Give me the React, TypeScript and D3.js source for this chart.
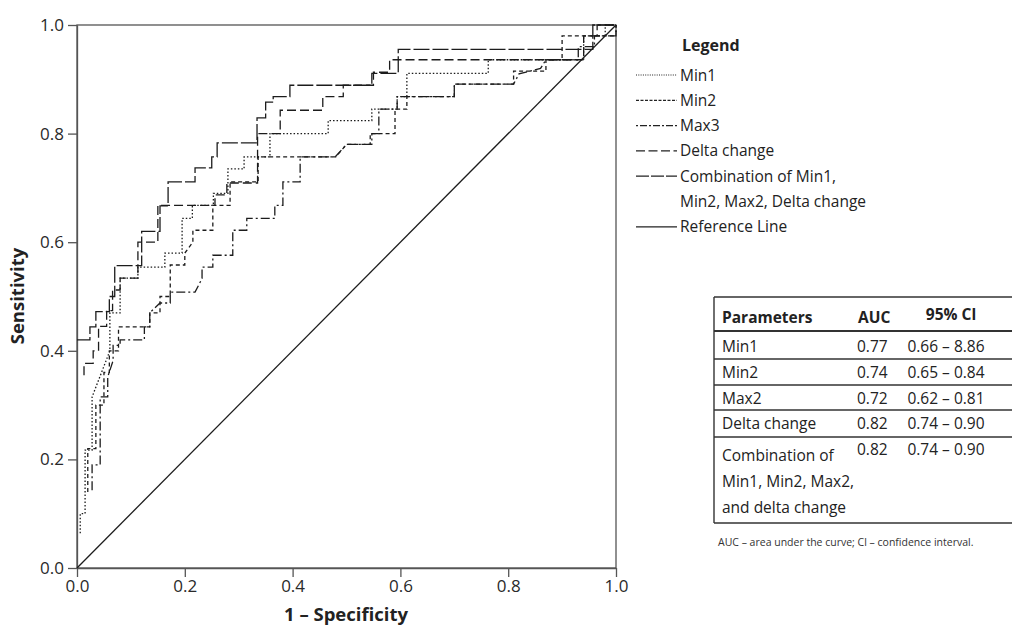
import React, { useRef, useEffect } from 'react';
import * as d3 from 'd3';

const W = 1012;
const H = 630;
const FONT = '"Open Sans", "Noto Sans", sans-serif';

// axis ticks
const ticks = [0, 0.2, 0.4, 0.6, 0.8, 1.0];

// ROC curves, [1 - specificity, sensitivity] corners
const min1: [number, number][] = [[.006, .064], [.006, .10], [.015, .10], [.015, .217], [.028, .217], [.028, .315], [.061, .40], [.061, .47], [.08, .47], [.08, .534], [.113, .534], [.113, .554], [.163, .554], [.163, .58], [.195, .58], [.195, .644], [.214, .644], [.214, .668], [.253, .668], [.253, .69], [.28, .69], [.28, .735], [.31, .735], [.31, .757], [.358, .757], [.358, .80], [.466, .80], [.466, .824], [.547, .824], [.547, .845], [.594, .845], [.594, .868], [.612, .868], [.612, .911], [.763, .911], [.763, .936], [.94, .936], [.94, .98], [.98, .98], [.98, 1], [1, 1]];
const min2: [number, number][] = [[.02, .14], [.02, .22], [.035, .22], [.035, .30], [.05, .30], [.05, .36], [.06, .36], [.06, .40], [.077, .40], [.077, .444], [.135, .444], [.135, .47], [.154, .47], [.154, .50], [.173, .50], [.173, .558], [.2, .558], [.2, .58], [.215, .60], [.215, .622], [.252, .622], [.252, .668], [.284, .668], [.284, .711], [.336, .711], [.336, .757], [.48, .757], [.5, .78], [.544, .78], [.544, .80], [.59, .80], [.59, .845], [.612, .845], [.612, .868], [.70, .868], [.70, .891], [.81, .891], [.81, .915], [.87, .915], [.87, .936], [.90, .936], [.90, .98], [1, .98], [1, 1]];
const max3: [number, number][] = [[.028, .143], [.028, .19], [.043, .19], [.043, .315], [.057, .315], [.057, .352], [.067, .382], [.067, .41], [.08, .41], [.08, .42], [.125, .42], [.125, .444], [.135, .444], [.135, .47], [.154, .488], [.173, .488], [.173, .508], [.219, .508], [.232, .533], [.232, .554], [.252, .554], [.252, .576], [.289, .576], [.289, .622], [.315, .622], [.315, .644], [.367, .644], [.367, .668], [.382, .668], [.382, .711], [.414, .711], [.414, .757], [.479, .757], [.5, .78], [.547, .78], [.547, .80], [.56, .80], [.56, .845], [.594, .845], [.594, .868], [.70, .868], [.70, .891], [.81, .891], [.82, .91], [.86, .92], [.87, .936], [.93, .936], [.93, .96], [.96, .96], [.96, .98], [1, .98], [1, 1]];
const delta: [number, number][] = [[.013, .355], [.013, .377], [.03, .377], [.03, .40], [.04, .40], [.04, .445], [.055, .445], [.055, .474], [.066, .474], [.066, .512], [.08, .512], [.08, .534], [.113, .534], [.113, .60], [.15, .60], [.15, .668], [.256, .668], [.256, .687], [.278, .687], [.278, .709], [.335, .709], [.335, .80], [.377, .80], [.377, .843], [.456, .843], [.456, .868], [.494, .868], [.494, .889], [.55, .889], [.55, .913], [.58, .913], [.58, .936], [.94, .936], [.94, .98], [.965, .98], [.965, 1], [1, 1]];
const combination: [number, number][] = [[0, .42], [.024, .42], [.024, .444], [.035, .444], [.035, .472], [.06, .472], [.06, .50], [.07, .50], [.07, .557], [.12, .557], [.12, .62], [.154, .62], [.154, .667], [.169, .667], [.169, .711], [.219, .711], [.219, .737], [.25, .737], [.25, .757], [.26, .757], [.26, .783], [.334, .783], [.334, .829], [.35, .829], [.35, .858], [.364, .858], [.364, .868], [.395, .868], [.395, .889], [.547, .889], [.547, .911], [.596, .911], [.596, .955], [.957, .955], [.957, 1], [1, 1]];
const reference: [number, number][] = [[0, 0], [1, 1]];

const legendLabels = ['Min1', 'Min2', 'Max3', 'Delta change', 'Combination of Min1,', 'Min2, Max2, Delta change', 'Reference Line'];

// table
const tableHead = ['Parameters', 'AUC', '95% Cl'];
const tableParams = [['Min1'], ['Min2'], ['Max2'], ['Delta change'], ['Combination of', 'Min1, Min2, Max2,', 'and delta change']];
const tableAuc = ['0.77', '0.74', '0.72', '0.82', '0.82'];
const tableCi = ['0.66 – 8.86', '0.65 – 0.84', '0.62 – 0.81', '0.74 – 0.90', '0.74 – 0.90'];
const footnote = 'AUC – area under the curve; Cl – confidence interval.';

const App = () => {
  const svgRef = useRef<SVGSVGElement>(null);

  useEffect(() => {
    const svg = d3.select(svgRef.current);
    svg.selectAll('*').remove();

    const x = d3.scaleLinear().domain([0, 1]).range([77, 616]);
    const y = d3.scaleLinear().domain([0, 1]).range([568, 25]);

    // frame
    svg.append('rect').attr('x', 77).attr('y', 25).attr('width', 616 - 77).attr('height', 568 - 25)
      .attr('fill', 'none').attr('stroke', '#555').attr('stroke-width', 1.3);

    const xAxis = svg.append('g').attr('transform', 'translate(0,568)')
      .call(d3.axisBottom(x).tickValues(ticks).tickFormat(d3.format('.1f')).tickSize(9).tickSizeOuter(0).tickPadding(3));
    const yAxis = svg.append('g').attr('transform', 'translate(77,0)')
      .call(d3.axisLeft(y).tickValues(ticks).tickFormat(d3.format('.1f')).tickSize(9).tickSizeOuter(0).tickPadding(4));
    [xAxis, yAxis].forEach(g => {
      g.select('.domain').attr('stroke', '#555').attr('stroke-width', 1.3);
      g.selectAll('.tick line').attr('stroke', '#555').attr('stroke-width', 1.3);
      g.selectAll('.tick text').attr('font-family', FONT).attr('font-size', 17).attr('fill', '#2a2a2a');
    });

    svg.append('text').attr('x', 346).attr('y', 621).attr('text-anchor', 'middle')
      .attr('font-family', FONT).attr('font-weight', 700).attr('font-size', 18.5).attr('fill', '#222')
      .text('1 – Specificity');
    svg.append('text').attr('transform', 'translate(24,296) rotate(-90)').attr('text-anchor', 'middle')
      .attr('font-family', FONT).attr('font-weight', 700).attr('font-size', 18.5).attr('fill', '#222')
      .text('Sensitivity');

    const line = d3.line<[number, number]>().x(d => x(d[0])).y(d => y(d[1]));
    const series = [
      { data: min1, dash: '1.5,2' },
      { data: min2, dash: '4,3' },
      { data: max3, dash: '9,3,2,3' },
      { data: delta, dash: '9,4' },
      { data: combination, dash: '16,3' },
      { data: reference, dash: null },
    ];
    svg.append('g').selectAll('path').data(series).join('path')
      .attr('d', d => line(d.data))
      .attr('fill', 'none').attr('stroke', '#1c1c1c').attr('stroke-width', 1.3)
      .attr('stroke-dasharray', d => d.dash);

    // legend
    const lg = svg.append('g').attr('font-family', FONT).attr('fill', '#222');
    lg.append('text').attr('x', 682).attr('y', 51).attr('font-weight', 700).attr('font-size', 16).text('Legend');
    const legendDash = ['1,1.3', '3,1.5', '2,2,7,2', '9,3.5', '13,2', null, null];
    legendLabels.forEach((lab, i) => {
      const cy = 75 + i * 25.3;
      if (i !== 5) {
        lg.append('line').attr('x1', 636).attr('x2', 677).attr('y1', cy).attr('y2', cy)
          .attr('stroke', '#222').attr('stroke-width', 1.2).attr('stroke-dasharray', legendDash[i]);
      }
      lg.append('text').attr('x', 680).attr('y', cy + 5.5).attr('font-size', 15.5).text(lab);
    });

    // table
    const tb = svg.append('g').attr('font-family', FONT).attr('fill', '#222');
    const tl = 714, tr = 1012;
    const rowLines = [297, 331, 359, 385, 410, 437, 523];
    rowLines.forEach((ly, i) => {
      tb.append('line').attr('x1', tl).attr('x2', tr).attr('y1', ly).attr('y2', ly)
        .attr('stroke', '#333').attr('stroke-width', i === 1 ? 1.8 : 1.4);
    });
    tb.append('line').attr('x1', tl).attr('x2', tl).attr('y1', 297).attr('y2', 523).attr('stroke', '#333').attr('stroke-width', 1.4);
    tb.append('text').attr('x', 722).attr('y', 323).attr('font-weight', 700).attr('font-size', 15.5).text(tableHead[0]);
    tb.append('text').attr('x', 858).attr('y', 323).attr('font-weight', 700).attr('font-size', 15.5).text(tableHead[1]);
    tb.append('text').attr('x', 951).attr('y', 320).attr('text-anchor', 'middle').attr('font-weight', 700).attr('font-size', 15.5).text(tableHead[2]);
    tableParams.forEach((lines, i) => {
      const base = 352 + i * 25.8;
      lines.forEach((t, j) => {
        tb.append('text').attr('x', 722).attr('y', base + j * 26 + (lines.length > 1 ? 6 : 0)).attr('font-size', 15.5).text(t);
      });
      tb.append('text').attr('x', 857).attr('y', base).attr('font-size', 15.5).text(tableAuc[i]);
      tb.append('text').attr('x', 946).attr('y', base).attr('text-anchor', 'middle').attr('font-size', 15.5).text(tableCi[i]);
    });
    tb.append('text').attr('x', 718).attr('y', 546).attr('font-size', 10.5).attr('fill', '#333').text(footnote);
  }, []);

  return (
    <svg ref={svgRef} width={W} height={H} style={{ position: 'absolute', left: 0, top: 0, background: '#fff' }} />
  );
};

export default App;
